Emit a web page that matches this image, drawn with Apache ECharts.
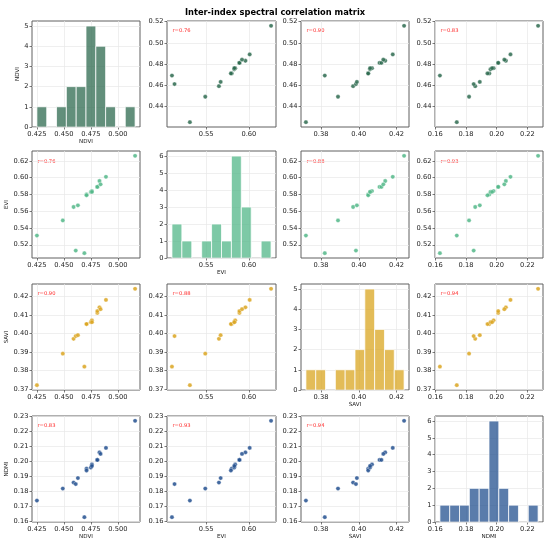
<!DOCTYPE html>
<html>
<head>
<meta charset="utf-8">
<script src="https://cdn.jsdelivr.net/npm/echarts@6/dist/echarts.min.js"></script>
<style>html,body{margin:0;padding:0;background:#fff}#c{width:550px;height:545px}</style>
</head>
<body>
<div id="c"></div>
<script>
// ---- data (17 samples) ----
const indexNames = ['NDVI', 'EVI', 'SAVI', 'NDMI'];
const ndvi = [0.425, 0.449, 0.459, 0.461, 0.463, 0.469, 0.471, 0.471, 0.475, 0.476, 0.476, 0.481, 0.481, 0.483, 0.484, 0.489, 0.516];
const evi  = [0.531, 0.549, 0.565, 0.513, 0.567, 0.510, 0.580, 0.579, 0.583, 0.584, 0.583, 0.589, 0.589, 0.596, 0.592, 0.601, 0.626];
const savi = [0.372, 0.389, 0.397, 0.3985, 0.399, 0.382, 0.405, 0.405, 0.406, 0.407, 0.406, 0.411, 0.412, 0.414, 0.413, 0.418, 0.424];
const ndmi = [0.174, 0.182, 0.186, 0.185, 0.189, 0.163, 0.1952, 0.194, 0.196, 0.198, 0.197, 0.201, 0.201, 0.206, 0.205, 0.209, 0.227];

// correlation labels shown in the panels: [row][col]
const rLabels = [
  [null,   '0.76', '0.90', '0.83'],
  ['0.76', null,   '0.88', '0.93'],
  ['0.90', '0.88', null,   '0.94'],
  ['0.83', '0.93', '0.94', null]
];

// tick labels
const ndviXTicks = [0.425, 0.450, 0.475, 0.500];
const ndviYTicks = [0.44, 0.46, 0.48, 0.50, 0.52];
const eviXTicks  = [0.55, 0.60];
const eviYTicks  = [0.52, 0.54, 0.56, 0.58, 0.60, 0.62];
const saviXTicks = [0.38, 0.40, 0.42];
const saviYTicks = [0.37, 0.38, 0.39, 0.40, 0.41, 0.42];
const ndmiXTicks = [0.16, 0.18, 0.20, 0.22];
const ndmiYTicks = [0.16, 0.17, 0.18, 0.19, 0.20, 0.21, 0.22, 0.23];
const xDecimals = [3, 2, 2, 2];
const binCount = 10;

// ---- styling / layout ----
const vals = [ndvi, evi, savi, ndmi];
const xTicks = [ndviXTicks, eviXTicks, saviXTicks, ndmiXTicks];
const yTicks = [ndviYTicks, eviYTicks, saviYTicks, ndmiYTicks];
const colors = ['#2D6A4F', '#52B788', '#DAA520', '#23508F'];
const colL = [32, 167, 301, 435], colR = [140, 276, 409, 543];
const rowT = [21, 151, 284, 416], rowB = [127, 258, 390, 522];
const FONT = 'DejaVu Sans';

function limits(arr) {
  const mn = Math.min(...arr), mx = Math.max(...arr), pad = (mx - mn) * 0.05;
  return [mn, mx, mn - pad, mx + pad];
}
function histogram(arr) {
  const mn = Math.min(...arr), mx = Math.max(...arr), w = (mx - mn) / binCount;
  const counts = new Array(binCount).fill(0);
  arr.forEach(v => { let k = Math.floor((v - mn) / w); if (k >= binCount) k = binCount - 1; counts[k]++; });
  return counts.map((c, k) => [mn + k * w, mn + (k + 1) * w, c]);
}

const grids = [], xAxes = [], yAxes = [], series = [], graphics = [];
for (let i = 0; i < 4; i++) {
  for (let j = 0; j < 4; j++) {
    const k = i * 4 + j;
    const L = colL[j], T = rowT[i], W = colR[j] - colL[j], H = rowB[i] - rowT[i];
    grids.push({ left: L, top: T, width: W, height: H, show: true, borderColor: '#606060', borderWidth: 1, containLabel: false });
    const lx = limits(vals[j]);
    const xd = xDecimals[j];
    const showXName = (i === j) || (i === 3);
    xAxes.push({
      type: 'value', gridIndex: k, min: lx[2], max: lx[3],
      name: showXName ? indexNames[j] : '', nameLocation: 'middle', nameGap: 12,
      nameTextStyle: { fontSize: 5.6, color: '#222', fontFamily: FONT },
      axisLine: { show: false, onZero: false },
      axisTick: { show: true, length: 2.5, lineStyle: { color: '#444', width: 0.7 }, customValues: xTicks[j] },
      axisLabel: { fontSize: 6.7, color: '#222', fontFamily: FONT, margin: 3.5, customValues: xTicks[j], formatter: v => v.toFixed(xd) },
      splitLine: { show: true, lineStyle: { color: '#e8e8e8', width: 0.7 } }
    });
    let yMin, yMax, yT, yFmt;
    if (i === j) {
      const bins = histogram(vals[j]);
      const maxC = Math.max(...bins.map(b => b[2]));
      yMin = 0; yMax = maxC * 1.05;
      yT = []; for (let c = 0; c <= maxC; c++) yT.push(c);
      yFmt = v => String(Math.round(v));
      const col = colors[j];
      series.push({
        type: 'custom', xAxisIndex: k, yAxisIndex: k, data: bins,
        encode: { x: [0, 1], y: 2 },
        renderItem: function (params, api) {
          const p0 = api.coord([api.value(0), 0]);
          const p1 = api.coord([api.value(1), api.value(2)]);
          return {
            type: 'rect',
            shape: { x: p0[0], y: p1[1], width: p1[0] - p0[0], height: p0[1] - p1[1] },
            style: { fill: col, opacity: 0.75, stroke: '#ffffff', lineWidth: 1 }
          };
        }
      });
    } else {
      const ly = limits(vals[i]);
      yMin = ly[2]; yMax = ly[3]; yT = yTicks[i];
      yFmt = v => v.toFixed(2);
      series.push({
        type: 'scatter', xAxisIndex: k, yAxisIndex: k,
        data: vals[j].map((x, n) => [x, vals[i][n]]),
        symbolSize: 4.3,
        itemStyle: { color: colors[i], opacity: 0.85, borderColor: '#ffffff', borderWidth: 0.4 }
      });
      graphics.push({
        type: 'text', left: L + 0.05 * W, top: T + 0.1 * H - 3,
        style: { text: 'r=' + rLabels[i][j], fill: '#ff2a2a', fontSize: 5.2, fontFamily: FONT }
      });
    }
    yAxes.push({
      type: 'value', gridIndex: k, min: yMin, max: yMax,
      name: j === 0 ? indexNames[i] : '', nameLocation: 'middle', nameRotate: 90,
      nameGap: (i === 0 && j === 0) ? 9 : 16,
      nameTextStyle: { fontSize: 5.6, color: '#222', fontFamily: FONT },
      axisLine: { show: false, onZero: false },
      axisTick: { show: true, length: 2.5, lineStyle: { color: '#444', width: 0.7 }, customValues: yT },
      axisLabel: { fontSize: 6.7, color: '#222', fontFamily: FONT, margin: 3.5, customValues: yT, formatter: yFmt },
      splitLine: { show: true, lineStyle: { color: '#e8e8e8', width: 0.7 } }
    });
  }
}

const chart = echarts.init(document.getElementById('c'), null, { renderer: 'canvas' });
chart.setOption({
  animation: false,
  backgroundColor: '#ffffff',
  title: {
    text: 'Inter-index spectral correlation matrix', left: 'center', top: 4,
    textStyle: { fontSize: 8.3, fontWeight: 'bold', color: '#000', fontFamily: FONT }
  },
  grid: grids, xAxis: xAxes, yAxis: yAxes, series: series, graphic: graphics
});
</script>
</body>
</html>
